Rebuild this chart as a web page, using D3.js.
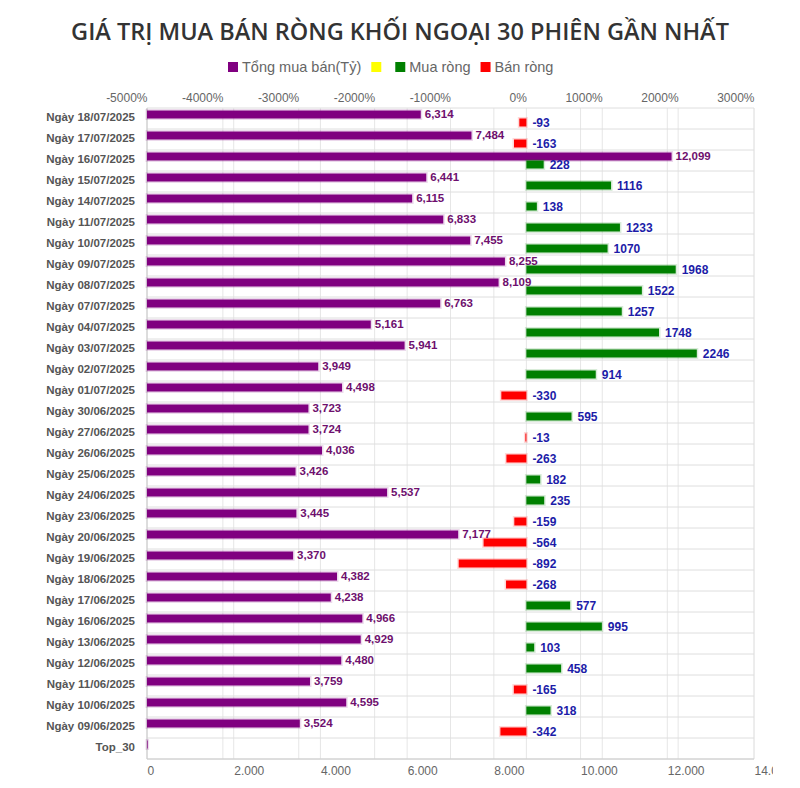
<!DOCTYPE html>
<html lang="vi">
<head>
<meta charset="utf-8">
<title>Giá trị mua bán ròng khối ngoại</title>
<style>
  html,body{margin:0;background:#fff;}
  svg{display:block;font-family:"Liberation Sans",Arial,sans-serif;}
</style>
</head>
<body>
<svg id="chart" width="800" height="788"></svg>
<script src="https://cdn.jsdelivr.net/npm/d3@7"></script>
<script>
// data
const days = [
  "Ngày 18/07/2025","Ngày 17/07/2025","Ngày 16/07/2025","Ngày 15/07/2025","Ngày 14/07/2025",
  "Ngày 11/07/2025","Ngày 10/07/2025","Ngày 09/07/2025","Ngày 08/07/2025","Ngày 07/07/2025",
  "Ngày 04/07/2025","Ngày 03/07/2025","Ngày 02/07/2025","Ngày 01/07/2025","Ngày 30/06/2025",
  "Ngày 27/06/2025","Ngày 26/06/2025","Ngày 25/06/2025","Ngày 24/06/2025","Ngày 23/06/2025",
  "Ngày 20/06/2025","Ngày 19/06/2025","Ngày 18/06/2025","Ngày 17/06/2025","Ngày 16/06/2025",
  "Ngày 13/06/2025","Ngày 12/06/2025","Ngày 11/06/2025","Ngày 10/06/2025","Ngày 09/06/2025",
  "Top_30"
];
const totalTrade = [
  6314, 7484, 12099, 6441, 6115, 6833, 7455, 8255, 8109, 6763,
  5161, 5941, 3949, 4498, 3723, 3724, 4036, 3426, 5537, 3445,
  7177, 3370, 4382, 4238, 4966, 4929, 4480, 3759, 4595, 3524,
  15
];
const netTrade = [
  -93, -163, 228, 1116, 138, 1233, 1070, 1968, 1522, 1257,
  1748, 2246, 914, -330, 595, -13, -263, 182, 235, -159,
  -564, -892, -268, 577, 995, 103, 458, -165, 318, -342,
  null
];
const totalTicks = [0, 2000, 4000, 6000, 8000, 10000, 12000, 14000];
const netTicks = [-5000, -4000, -3000, -2000, -1000, 0, 1000, 2000, 3000];

const legendItems = [
  {label: "Tổng mua bán(Tỷ)", color: "#800080"},
  {label: "", color: "#ffff00"},
  {label: "Mua ròng", color: "#008000"},
  {label: "Bán ròng", color: "#ff0000"}
];

const svg = d3.select("#chart");
const W = 800;
const plot = {left: 147, right: 754, top: 108, bottom: 759};

const xTotal = d3.scaleLinear().domain([0, 14000]).range([plot.left, plot.right]);
const xNet = d3.scaleLinear().domain([-5000, 3000]).range([plot.left, plot.right]);
const y = d3.scaleBand().domain(days).range([plot.top, plot.bottom])
  .paddingInner(0.24).paddingOuter(0.12);
const ySub = d3.scaleBand().domain(["total", "net"]).range([0, y.bandwidth()]);

const dotFmt = d3.formatLocale({decimal: ",", thousands: ".", grouping: [3], currency: ["", ""]}).format(",");
const commaFmt = d3.format(",");

// title
svg.append("text")
  .attr("x", W / 2).attr("y", 40)
  .attr("text-anchor", "middle")
  .style("font-family", "'Open Sans',sans-serif")
  .style("font-weight", 600)
  .style("font-size", "23.5px")
  .attr("fill", "#333")
  .text("GIÁ TRỊ MUA BÁN RÒNG KHỐI NGOẠI 30 PHIÊN GẦN NHẤT");

// legend
const legend = svg.append("g").attr("transform", "translate(228,67)");
let lx = 0;
legendItems.forEach(it => {
  legend.append("rect").attr("x", lx).attr("y", -5).attr("width", 10).attr("height", 10)
    .attr("fill", it.color);
  lx += 14;
  if (it.label) {
    const t = legend.append("text").attr("x", lx).attr("y", 5)
      .style("font-size", "14.5px").attr("fill", "#666").text(it.label);
    lx += t.node().getComputedTextLength() + 10;
  } else {
    lx += 10;
  }
});

// grid
const grid = svg.append("g");
grid.selectAll("line.vt").data(totalTicks).join("line")
  .attr("x1", d => xTotal(d)).attr("x2", d => xTotal(d))
  .attr("y1", plot.top).attr("y2", plot.bottom)
  .attr("stroke", "#e6e6e6");
grid.selectAll("line.vn").data(netTicks).join("line")
  .attr("x1", d => xNet(d)).attr("x2", d => xNet(d))
  .attr("y1", plot.top).attr("y2", plot.bottom)
  .attr("stroke", "#e6e6e6");
grid.selectAll("line.h").data(d3.range(days.length + 1)).join("line")
  .attr("x1", plot.left).attr("x2", plot.right)
  .attr("y1", i => plot.top + i * y.step()).attr("y2", i => plot.top + i * y.step())
  .attr("stroke", "#dedede");

// frame
svg.append("line").attr("x1", plot.left).attr("x2", plot.left)
  .attr("y1", plot.top).attr("y2", plot.bottom).attr("stroke", "#ccc");
svg.append("line").attr("x1", plot.left).attr("x2", plot.right)
  .attr("y1", plot.bottom).attr("y2", plot.bottom).attr("stroke", "#ccc");

// top axis (net, shown as %)
const topAxis = svg.append("g")
  .attr("transform", `translate(0,${plot.top - 3})`)
  .call(d3.axisTop(xNet).tickValues(netTicks).tickSize(0).tickFormat(d => d + "%"));
topAxis.select(".domain").remove();
topAxis.selectAll("text")
  .attr("text-anchor", "end")
  .style("font-size", "12px")
  .style("font-family", "'Liberation Sans',Arial,sans-serif")
  .attr("fill", "#666");

// bottom axis (total); last label is cut off like in the source
svg.append("clipPath").attr("id", "bclip")
  .append("rect").attr("x", 0).attr("y", -5).attr("width", 773).attr("height", 40);
const botAxis = svg.append("g")
  .attr("clip-path", "url(#bclip)")
  .attr("transform", `translate(0,${plot.bottom + 2})`)
  .call(d3.axisBottom(xTotal).tickValues(totalTicks).tickSize(0).tickFormat(dotFmt));
botAxis.select(".domain").remove();
botAxis.selectAll("text")
  .attr("text-anchor", "start")
  .attr("dy", "0.9em")
  .style("font-size", "12px")
  .style("font-family", "'Liberation Sans',Arial,sans-serif")
  .attr("fill", "#666");

// category labels
svg.append("g").selectAll("text").data(days).join("text")
  .attr("x", plot.left - 12)
  .attr("y", d => y(d) + y.bandwidth() / 2 - 2)
  .attr("dy", "0.35em")
  .attr("text-anchor", "end")
  .style("font-size", "11.5px")
  .style("font-weight", "bold")
  .attr("fill", "#555")
  .text(d => d);

// total bars
const rows = days.map((d, i) => ({day: d, total: totalTrade[i], net: netTrade[i]}));

svg.append("g").selectAll("rect").data(rows).join("rect")
  .attr("x", xTotal(0))
  .attr("y", d => y(d.day) + ySub("total"))
  .attr("width", d => xTotal(d.total) - xTotal(0))
  .attr("height", ySub.bandwidth())
  .attr("fill", "#800080")
  .attr("stroke", "#800080").attr("stroke-opacity", 0.15).attr("stroke-width", 3);

// net bars
const netRows = rows.filter(d => d.net !== null);
svg.append("g").selectAll("rect").data(netRows).join("rect")
  .attr("x", d => xNet(Math.min(0, d.net)))
  .attr("y", d => y(d.day) + ySub("net"))
  .attr("width", d => Math.abs(xNet(d.net) - xNet(0)))
  .attr("height", ySub.bandwidth())
  .attr("fill", d => d.net < 0 ? "#ff0000" : "#008000")
  .attr("stroke", d => d.net < 0 ? "#ff0000" : "#008000")
  .attr("stroke-opacity", 0.15).attr("stroke-width", 3);

// value labels
svg.append("g").selectAll("text").data(netRows).join("text")
  .attr("x", d => xTotal(d.total) + 4)
  .attr("y", d => y(d.day) + ySub("total") + ySub.bandwidth() / 2 - 1)
  .attr("dy", "0.35em")
  .style("font-size", "11.5px")
  .style("font-weight", "bold")
  .attr("fill", "#6e0f6e")
  .text(d => commaFmt(d.total));

svg.append("g").selectAll("text").data(netRows).join("text")
  .attr("x", d => xNet(Math.max(0, d.net)) + 6)
  .attr("y", d => y(d.day) + ySub("net") + ySub.bandwidth() / 2)
  .attr("dy", "0.35em")
  .style("font-size", "12px")
  .style("font-weight", "bold")
  .attr("fill", "#1c1ca8")
  .text(d => d.net);
</script>
</body>
</html>
